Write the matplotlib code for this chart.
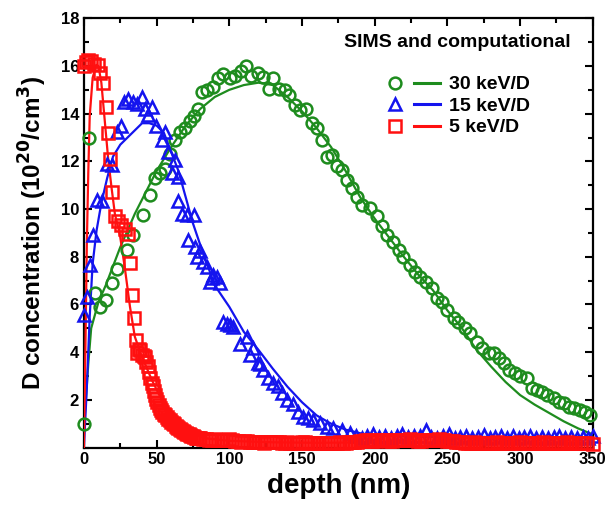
import matplotlib
matplotlib.use("Agg")
import matplotlib.pyplot as plt
from matplotlib.lines import Line2D
from matplotlib.legend_handler import HandlerTuple
from matplotlib.ticker import MultipleLocator

plt.rcParams['font.family'] = ['Liberation Sans', 'DejaVu Sans']
plt.rcParams['font.weight'] = 'bold'
plt.rcParams['mathtext.default'] = 'bf'

# ---------------- data ----------------
# 30 keV/D SIMS (circles)
g_x = [0, 3.5, 7.6, 11, 15, 19, 22.5, 29.4, 34, 40.8, 45.4, 48.9, 52.3, 55.7, 59.2, 62.6, 66, 69.5,
       73, 75.5, 78.7, 81.5, 84.4, 89, 92.4, 96, 100.5, 104, 108, 111.6, 115, 119.5, 123, 127,
       130.3, 134.5, 138, 141.3, 145.2, 148.7, 153, 156.7, 160.1, 163.6, 167, 170.5, 173.9, 177.4,
       180.8, 184.2, 187.7, 191, 196.8, 201.4, 204.9, 208.3, 212.9, 216.4, 219.8, 224.4, 227.8,
       231.2, 235.4, 239.3, 242.7, 246.2, 249.6, 254.2, 257.6, 262.2, 265.7, 270.3, 273.7, 278.3,
       281.8, 285.2, 288.6, 292.1, 296.7, 300.1, 304.7, 308.2, 311.6, 315, 318.5, 323, 326.5,
       329.9, 333.3, 336.8, 341.4, 344.8, 348.2]
g_y = [1.0, 13.0, 6.5, 5.9, 6.2, 6.9, 7.5, 8.3, 8.9, 9.75, 10.6, 11.3, 11.5, 11.7, 12.3, 12.9, 13.25, 13.4,
       13.7, 13.9, 14.2, 14.9, 15.0, 15.1, 15.5, 15.65, 15.5, 15.6, 15.8, 16.0, 15.6, 15.7, 15.55, 15.05,
       15.5, 15.05, 15.0, 14.8, 14.35, 14.15, 14.2, 13.6, 13.4, 12.9, 12.2, 12.25, 11.8, 11.65,
       11.2, 10.9, 10.5, 10.15, 10.05, 9.7, 9.27, 8.9, 8.64, 8.3, 8.0, 7.66, 7.38,
       7.17, 6.96, 6.68, 6.26, 6.12, 5.77, 5.42, 5.28, 5.0, 4.8, 4.44, 4.17, 3.98,
       3.96, 3.75, 3.54, 3.26, 3.12, 2.98, 2.91, 2.49, 2.42, 2.35, 2.21, 2.07, 1.93,
       1.86, 1.72, 1.65, 1.58, 1.51, 1.37]

# 30 keV/D computational (line)
gl_x = [0, 3, 5, 10, 15, 20, 25, 30, 35, 40, 45, 50, 60, 70, 80, 90, 100, 110, 120, 130, 140, 150,
        160, 170, 180, 190, 200, 210, 220, 230, 240, 250, 260, 270, 280, 290, 300, 310, 320, 330, 340, 350]
gl_y = [0.8, 3.5, 5.0, 6.1, 6.8, 7.6, 8.4, 9.1, 9.8, 10.4, 11.0, 11.6, 12.6, 13.5, 14.2, 14.7, 15.0, 15.2,
        15.3, 15.2, 14.7, 14.1, 13.4, 12.6, 11.6, 10.5, 9.6, 8.8, 8.0, 7.25, 6.6, 5.75, 5.0, 4.1,
        3.4, 2.75, 2.2, 1.8, 1.45, 1.1, 0.8, 0.55]

# 15 keV/D SIMS (triangles)
b_x = [0, 1.8, 4.1, 6.4, 8.7, 12.5, 15.6, 19, 22.5, 25.5, 27.5, 30.5, 33.5, 36.5, 39.7, 42, 44.3, 46.6,
       49.5, 53.5, 55.7, 58, 60.4, 62.6, 64.5, 65, 67.7, 71.1, 71.8, 75.5, 76.4, 77.5, 79.8, 82, 84.4,
       86.7, 87.9, 89, 91.3, 93.6, 95.9, 98.2, 100.5, 102.8, 107.4, 111.9, 114.2, 116.5, 119.9, 121.1,
       123.4, 126.9, 130.3, 133.7, 136, 139.5, 144, 147.5, 150.9, 154.4, 157.8, 162.4, 167, 171.6,
       177.4, 183.1, 187, 191, 195, 199, 203, 207, 211, 215, 219, 223, 227, 231, 235, 239, 243, 247,
       251, 255, 259, 263, 267, 271, 275, 279, 283, 287, 291, 295, 299, 303, 307, 311, 315, 319, 323,
       327, 331, 335, 339, 343, 347, 350]
b_y = [5.55, 6.3, 7.66, 8.9, 10.4, 10.35, 11.9, 11.85, 13.25, 13.5, 14.5, 14.6, 14.5, 14.4, 14.7, 14.2, 13.95, 14.3,
       13.5, 12.9, 13.25, 12.4, 11.5, 12.05, 11.35, 10.35, 9.8, 9.76, 8.7, 9.76, 8.43, 8.0, 8.25, 7.8, 7.55,
       6.96, 7.1, 7.24, 7.17, 6.9, 5.28, 5.2, 5.14, 5.07, 4.35, 4.65, 3.9, 4.17, 3.55, 3.5,
       3.25, 2.91, 2.72, 2.56, 2.28, 2.0, 1.82, 1.51, 1.3, 1.23, 1.16, 1.02, 0.88, 0.81,
       0.74, 0.6, 0.5, 0.42, 0.48, 0.55, 0.45, 0.5, 0.42, 0.47, 0.55, 0.44, 0.48, 0.5, 0.72, 0.45, 0.4, 0.5,
       0.55, 0.42, 0.46, 0.5, 0.38, 0.45, 0.52, 0.4, 0.44, 0.48, 0.42, 0.5, 0.4, 0.45, 0.5, 0.42, 0.46, 0.4, 0.44,
       0.5, 0.42, 0.46, 0.4, 0.44, 0.42, 0.5]

# 15 keV/D computational (line)
bl_x = [0, 2, 3, 4, 6, 8.7, 12, 16, 20, 25, 30, 35, 40, 45, 50, 55, 60, 65, 70, 75, 80, 90, 100, 110,
        120, 130, 140, 150, 160, 170, 180, 190, 200, 220, 240, 260, 280, 300, 320, 340, 350]
bl_y = [0.0, 2.5, 4.0, 5.5, 7.7, 9.1, 10.25, 11.3, 12.2, 12.7, 13.0, 13.3, 13.6, 13.6, 13.5, 13.2, 12.4, 11.6,
        10.5, 9.4, 8.5, 6.8, 5.9, 4.85, 4.1, 3.3, 2.55, 1.9, 1.35, 1.0, 0.75, 0.6, 0.5, 0.48, 0.45,
        0.47, 0.44, 0.45, 0.43, 0.44, 0.42]

# 5 keV/D SIMS (squares)
r_x = [0, 1.5, 3, 5, 7, 9.5, 11, 13, 15.5, 16.7, 18, 19.5, 21.3, 23.5, 25.8, 28, 30, 31.6, 33.3, 34.6,
       36, 36.8, 37.6, 38.5, 40, 41, 42, 43, 44, 45, 45.8, 46.7, 47.5, 48.3, 49, 49.8, 50.5, 51.4, 52.3,
       53.2, 54, 55, 56, 57, 58, 59, 60, 61, 62, 63, 64, 65, 66, 67, 68, 69, 70, 71, 72, 73, 74, 75,
       76, 77, 78, 79,
       80, 82, 84, 86, 88, 90, 92, 94, 96, 98, 100, 102, 104, 106, 108, 110, 112, 114, 116, 118,
       120, 122, 124, 126, 128, 130, 132, 134, 136, 138, 140, 142, 144, 146, 148, 150, 152, 154, 156, 158,
       160, 162, 164, 166, 168, 170, 172, 174, 176, 178, 180, 182, 184, 186, 188, 190, 192, 194, 196, 198,
       200, 202, 204, 206, 208, 210, 212, 214, 216, 218, 220, 222, 224, 226, 228, 230, 232, 234, 236, 238,
       240, 242, 244, 246, 248, 250, 252, 254, 256, 258, 260, 262, 264, 266, 268, 270, 272, 274, 276, 278,
       280, 282, 284, 286, 288, 290, 292, 294, 296, 298, 300, 302, 304, 306, 308, 310, 312, 314, 316, 318,
       320, 322, 324, 326, 328, 330, 332, 334, 336, 338, 340, 342, 344, 346, 350]
r_y = [16.0, 16.15, 16.25, 16.2, 16.1, 16.05, 15.7, 15.3, 14.3, 13.2, 12.1, 10.7, 9.7, 9.5, 9.35, 9.15, 8.95, 7.75, 6.4, 5.45,
       4.5, 3.95, 4.15, 4.1, 3.9, 3.85, 3.8, 3.6, 3.4, 3.15, 2.9, 2.72, 2.56, 2.38, 2.2, 2.05, 1.93, 1.78, 1.65,
       1.57, 1.5, 1.42, 1.35, 1.27, 1.2, 1.14, 1.08, 1.02, 0.97, 0.92, 0.87, 0.82, 0.78, 0.74, 0.7, 0.66, 0.62, 0.58, 0.55, 0.52, 0.5, 0.47,
       0.45, 0.42, 0.4, 0.39,
       0.38, 0.36, 0.35, 0.33, 0.3, 0.34, 0.32, 0.3, 0.3, 0.33, 0.35, 0.3, 0.28, 0.26, 0.25, 0.28, 0.27, 0.24, 0.22, 0.25,
       0.25, 0.22, 0.2, 0.23, 0.22, 0.24, 0.25, 0.22, 0.2, 0.21, 0.22, 0.2, 0.18, 0.19, 0.2, 0.23, 0.22, 0.2, 0.18, 0.19,
       0.2, 0.18, 0.17, 0.19, 0.2, 0.19, 0.18, 0.2, 0.22, 0.21, 0.2, 0.23, 0.25, 0.24, 0.22, 0.26, 0.28, 0.3, 0.3, 0.28,
       0.27, 0.3, 0.32, 0.31, 0.3, 0.29, 0.28, 0.3, 0.32, 0.31, 0.3, 0.32, 0.34, 0.32, 0.3, 0.29, 0.28, 0.3, 0.32, 0.31,
       0.3, 0.32, 0.34, 0.32, 0.3, 0.28, 0.27, 0.26, 0.25, 0.23, 0.22, 0.21, 0.2, 0.21, 0.22, 0.21, 0.2, 0.19, 0.18, 0.19,
       0.2, 0.21, 0.22, 0.21, 0.2, 0.19, 0.18, 0.19, 0.2, 0.21, 0.22, 0.21, 0.2, 0.19, 0.18, 0.19, 0.2, 0.21, 0.22, 0.21,
       0.2, 0.19, 0.18, 0.19, 0.2, 0.21, 0.22, 0.21, 0.2, 0.19, 0.18, 0.19, 0.2, 0.19, 0.15]

# 5 keV/D computational (line)
rl_x = [0, 1, 2, 3, 4, 6, 8.5, 10, 12, 14.5, 16.7, 19, 21.3, 24.8, 28, 31.7, 35, 40, 46.6, 53.5, 62.6,
        74, 85, 100, 130, 160, 200, 250, 300, 350]
rl_y = [0.0, 4.0, 8.5, 11.5, 13.9, 15.5, 16.05, 16.0, 15.3, 13.6, 12.1, 10.9, 9.8, 8.9, 7.6, 5.9, 4.65, 3.8,
        2.85, 2.0, 1.16, 0.6, 0.38, 0.28, 0.22, 0.2, 0.22, 0.22, 0.2, 0.2]

labels = ['30 keV/D', '15 keV/D', '5 keV/D']
legend_title = 'SIMS and computational'
x_ticks = [0, 50, 100, 150, 200, 250, 300, 350]
y_ticks = [2, 4, 6, 8, 10, 12, 14, 16, 18]

GREEN = '#1e8c1e'
BLUE = '#1414ee'
RED = '#ff1010'

# ---------------- figure ----------------
fig = plt.figure(figsize=(6.08, 5.08), dpi=100)
ax = fig.add_axes([0.138, 0.119, 0.837, 0.845])

ms = 8.5
mew = 1.8
lw = 1.6

# lines
ax.plot(gl_x, gl_y, color=GREEN, lw=lw, zorder=3)
ax.plot(bl_x, bl_y, color=BLUE, lw=lw, zorder=3)
ax.plot(rl_x, rl_y, color=RED, lw=lw, zorder=3)

# markers
ax.plot(g_x, g_y, ls='none', marker='o', ms=ms, mfc='none', mec=GREEN, mew=mew, clip_on=False, zorder=4)
ax.plot(b_x, b_y, ls='none', marker='^', ms=ms, mfc='none', mec=BLUE, mew=mew, clip_on=False, zorder=4)
ax.plot(r_x, r_y, ls='none', marker='s', ms=ms, mfc='none', mec=RED, mew=mew, clip_on=False, zorder=5)

ax.set_xlim(0, 350)
ax.set_ylim(0, 18)
ax.set_xticks(x_ticks)
ax.set_yticks(y_ticks)
ax.xaxis.set_minor_locator(MultipleLocator(25))
ax.yaxis.set_minor_locator(MultipleLocator(1))
ax.tick_params(which='both', direction='in', top=True, right=True, width=1.5, labelsize=12)
ax.tick_params(which='major', length=6)
ax.tick_params(which='minor', length=3.5)
for lab in ax.get_xticklabels() + ax.get_yticklabels():
    lab.set_fontweight('bold')
for s in ax.spines.values():
    s.set_linewidth(1.6)

ax.set_xlabel('depth (nm)', fontsize=20, fontweight='bold', labelpad=4)
ax.set_ylabel(r'D concentration (10$^{20}$/cm$^{3}$)', fontsize=17.5, fontweight='bold', labelpad=8)

# legend
colors = [GREEN, BLUE, RED]
mk = ['o', '^', 's']
handles = []
for c, m in zip(colors, mk):
    handles.append((Line2D([], [], ls='none', marker=m, ms=ms, mfc='none', mec=c, mew=mew),
                    Line2D([], [], color=c, lw=2.2)))
ax.legend(handles, labels, handler_map={tuple: HandlerTuple(ndivide=None, pad=0.3)},
          loc='upper left', bbox_to_anchor=(0.585, 0.866), frameon=False,
          prop={'weight': 'bold', 'size': 14}, handlelength=3.0, handletextpad=0.45,
          labelspacing=0.2, borderpad=0, borderaxespad=0)
ax.text(0.733, 0.943, legend_title, transform=ax.transAxes, ha='center', va='center',
        fontsize=14, fontweight='bold')

fig.savefig('out.png', dpi=100)
